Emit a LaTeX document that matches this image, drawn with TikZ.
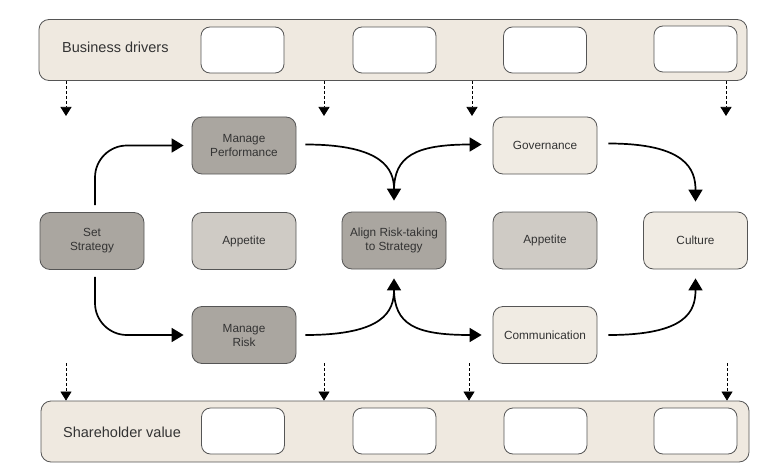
\documentclass[tikz,border=0pt]{standalone}
\usepackage{fontspec}
\setmainfont{Liberation Sans}
\usetikzlibrary{arrows.meta}
\definecolor{dk}{HTML}{AAA6A0}
\definecolor{md}{HTML}{CFCBC5}
\definecolor{lt}{HTML}{F0EBE3}
\definecolor{barfill}{HTML}{EFE9E0}
\definecolor{edgec}{HTML}{555555}
\definecolor{txt}{HTML}{333333}
\begin{document}
\begin{tikzpicture}[x=1pt,y=-1pt,
  box/.style={draw=edgec,line width=0.8pt,rounded corners=10pt,minimum width=104pt,minimum height=57pt,
    align=center,font=\fontsize{11.8}{14}\selectfont,text=txt,inner sep=0pt},
  darkbox/.style={box,fill=dk},
  midbox/.style={box,fill=md},
  lightbox/.style={box,fill=lt},
  bar/.style={draw=edgec,line width=0.8pt,fill=barfill,rounded corners=10pt,minimum height=61pt,inner sep=0pt},
  slot/.style={draw=edgec,line width=0.8pt,fill=white,rounded corners=9pt,minimum width=83pt,minimum height=46pt,inner sep=0pt},
  bartext/.style={font=\fontsize{14.5}{17}\selectfont,text=txt,anchor=west,inner sep=0pt},
  flow/.style={line width=1.7pt,-{Triangle[length=12pt,width=14pt]}},
  drv/.style={line width=0.7pt,dash pattern=on 3pt off 2pt,-{Triangle[length=9pt,width=11pt]}}
]
\useasboundingbox (0,0) rectangle (781,476);

% bars
\node[bar,minimum width=708pt] (top) at (393,50) {};
\node[bar,minimum width=708pt] (bot) at (395,431.5) {};
\node[bartext] (toptxt) at (62,47) {Business drivers};
\node[bartext] (bottxt) at (63,432) {Shareholder value};
\node[slot] (t1) at (242.5,50) {};
\node[slot] (t2) at (394.5,50) {};
\node[slot] (t3) at (545,50) {};
\node[slot] (t4) at (695.5,49) {};
\node[slot] (b1) at (243,431) {};
\node[slot] (b2) at (394.5,431) {};
\node[slot] (b3) at (545.5,431) {};
\node[slot] (b4) at (695.5,431) {};

% main nodes
\node[darkbox] (ss) at (92,241) {Set\\Strategy};
\node[darkbox] (mp) at (244,145.5) {Manage\\Performance};
\node[midbox] (ap1) at (244,241) {Appetite};
\node[darkbox] (mr) at (244,335) {Manage\\Risk};
\node[darkbox] (al) at (394,240.5) {Align Risk-taking\\to Strategy};
\node[lightbox] (gov) at (545,145.5) {Governance};
\node[midbox] (ap2) at (545,240.5) {Appetite};
\node[lightbox] (com) at (545,335) {Communication};
\node[lightbox] (cul) at (695.5,240.5) {Culture};

% driver arrows (top)
\coordinate (d1) at (66,116);
\coordinate (d2) at (324,116);
\coordinate (d3) at (472,116);
\coordinate (d4) at (726,116);
\draw[drv] (d1 |- top.south) -- (d1);
\draw[drv] (d2 |- top.south) -- (d2);
\draw[drv] (d3 |- top.south) -- (d3);
\draw[drv] (d4 |- top.south) -- (d4);
% value arrows (bottom)
\coordinate (v1) at (66,363);
\coordinate (v2) at (324,363);
\coordinate (v3) at (469,363);
\coordinate (v4) at (727,363);
\draw[drv] (v1) -- (v1 |- bot.north);
\draw[drv] (v2) -- (v2 |- bot.north);
\draw[drv] (v3) -- (v3 |- bot.north);
\draw[drv] (v4) -- (v4 |- bot.north);

% flows
\draw[flow,rounded corners=32pt] ([xshift=3pt,yshift=7pt]ss.north) |- ([xshift=-8pt]mp.west);
\draw[flow,rounded corners=32pt] ([xshift=3pt,yshift=-7pt]ss.south) |- ([xshift=-8pt]mr.west);

\draw[flow] ([xshift=9pt,yshift=1pt]mp.east) .. controls ++(78,0) and ([yshift=42pt]al.north) .. ([yshift=11pt]al.north);
\draw[flow] ([yshift=21pt]al.north) .. controls ([yshift=55pt]al.north) and ([xshift=-78pt,yshift=1pt]gov.west) .. ([xshift=-11pt,yshift=1pt]gov.west);
\draw[flow] ([xshift=11pt,yshift=2pt]gov.east) .. controls ++(78,0) and ([yshift=42pt]cul.north) .. ([yshift=10pt]cul.north);

\draw[flow] ([xshift=9pt]mr.east) .. controls ++(78,0) and ([yshift=-42pt]al.south) .. ([yshift=-9pt]al.south);
\draw[flow] ([yshift=-19pt]al.south) .. controls ([yshift=-55pt]al.south) and ([xshift=-78pt]com.west) .. ([xshift=-11pt]com.west);
\draw[flow] ([xshift=11pt]com.east) .. controls ++(78,0) and ([yshift=-42pt]cul.south) .. ([yshift=-9pt]cul.south);
\end{tikzpicture}
\end{document}
